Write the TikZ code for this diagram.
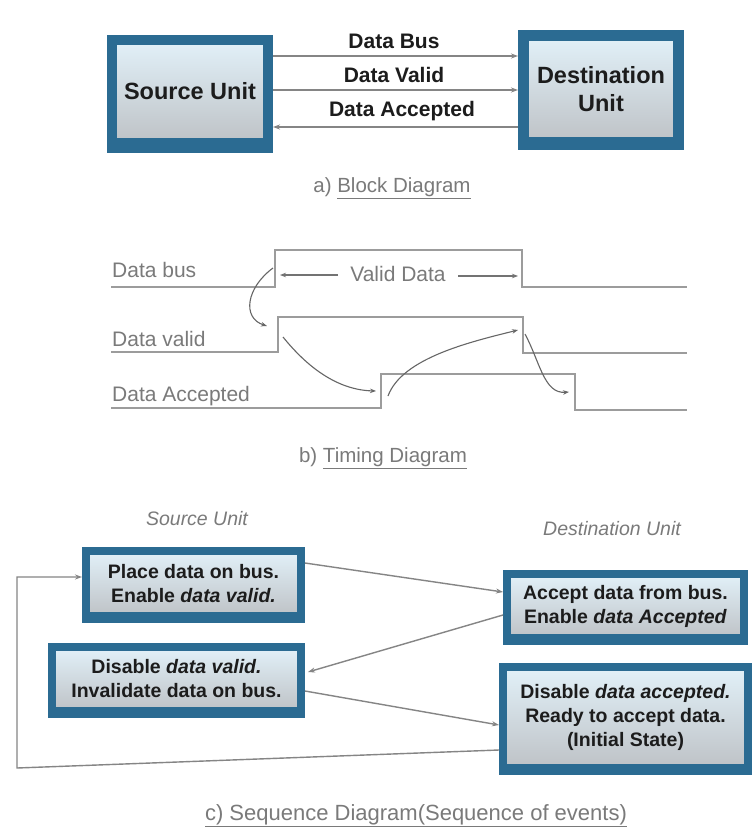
\documentclass[tikz,border=0pt]{standalone}
\usepackage{fontspec}
\setmainfont{Liberation Sans}
\usetikzlibrary{arrows.meta}
\definecolor{boxblue}{HTML}{2B6B92}
\definecolor{boxtop}{HTML}{E2F1F9}
\definecolor{boxmid}{HTML}{F1F3F4}
\definecolor{boxbot}{HTML}{BEC2C6}
\definecolor{txtdark}{HTML}{1C1C1C}
\definecolor{lightgray}{HTML}{7A7A7A}
\definecolor{wavegray}{HTML}{9C9C9C}
\definecolor{conngray}{HTML}{858585}
\tikzset{
  unitbox/.style={draw=boxblue, line width=10pt, top color=boxtop, middle color=boxmid, bottom color=boxbot,
    text=txtdark, align=center, inner sep=0pt, font=\bfseries\fontsize{23.5}{28}\selectfont},
  seqbox/.style={draw=boxblue, line width=8pt, top color=boxtop, middle color=boxmid, bottom color=boxbot,
    text=txtdark, align=center, inner sep=0pt, font=\bfseries\fontsize{19.5}{24}\selectfont},
  conn/.style={draw=conngray, line width=1.4pt, -{Stealth[length=7pt,width=5pt]}},
  buslabel/.style={text=txtdark, font=\bfseries\fontsize{21}{24}\selectfont},
  wave/.style={draw=wavegray, line width=2pt},
  wavelabel/.style={text=lightgray, anchor=west, inner sep=0pt, font=\fontsize{21}{24}\selectfont},
  curvearrow/.style={draw=black!60, line width=1.1pt, -{Stealth[length=6pt,width=4.5pt]}},
  caption/.style={text=lightgray, font=\fontsize{20.5}{24}\selectfont},
  heading/.style={text=lightgray, font=\itshape\fontsize{19.5}{22}\selectfont},
}
\begin{document}
\begin{tikzpicture}[x=1pt,y=-1pt]
\useasboundingbox[fill=white] (0,0) rectangle (754,833);

% ---------- a) Block diagram ----------
\node[unitbox, minimum width=156pt, minimum height=103pt] (src) at (190,91.5) {Source Unit};
\fill[boxblue] (src.south west) rectangle ([yshift=-5pt]src.south east);
\node[unitbox, line width=11pt, minimum width=155pt, minimum height=107pt] (dst) at (601,89) {Destination\\Unit};
\fill[boxblue] (dst.south west) rectangle ([yshift=-2pt]dst.south east);

\draw[conn] (src.east |- 0,56) -- (dst.west |- 0,56);
\draw[conn] (src.east |- 0,90) -- (dst.west |- 0,90);
\draw[conn] (dst.west |- 0,127) -- (src.east |- 0,127);
\node[buslabel] (lbus) at (394,41) {Data Bus};
\node[buslabel] (lvalid) at (394,75) {Data Valid};
\node[buslabel] (lacc) at (402,111) {Data Accepted};

\node[caption] (capa) at (392,188) {a) \underline{Block Diagram}};

% ---------- b) Timing diagram ----------
\draw[wave] (111,287) -- (275,287) -- (275,250) -- (522,250) -- (522,287) -- (687,287);
\draw[wave] (111,352) -- (278,352) -- (278,317) -- (523,317) -- (523,353) -- (687,353);
\draw[wave] (111,408) -- (381,408) -- (381,374) -- (575,374) -- (575,410) -- (687,410);

\node[wavelabel] (tbus) at (112,270) {Data bus};
\node[wavelabel] (tvalid) at (112,339) {Data valid};
\node[wavelabel] (tacc) at (112,396) {Data Accepted};

\node[text=lightgray, font=\fontsize{21}{24}\selectfont] (vd) at (398,274) {Valid Data};
\coordinate (vdl) at (280,275);
\coordinate (vdr) at (518,276);
\coordinate (vdls) at (338,275);
\coordinate (vdrs) at (458,276);
\draw[draw=black!55, line width=1.1pt, -{Stealth[length=6pt,width=4.5pt]}] (vdls) -- (vdl);
\draw[draw=black!55, line width=1.1pt, -{Stealth[length=6pt,width=4.5pt]}] (vdrs) -- (vdr);

\coordinate (c1s) at (273,268);  \coordinate (c1e) at (267,326);
\coordinate (c2s) at (283,337);  \coordinate (c2e) at (376,391);
\coordinate (c3s) at (388,396);  \coordinate (c3e) at (518,330);
\coordinate (c4s) at (525,334);  \coordinate (c4e) at (569,392);
\draw[curvearrow] (c1s) .. controls (246,288) and (242,318) .. (c1e);
\draw[curvearrow] (c2s) .. controls (308,368) and (338,390) .. (c2e);
\draw[curvearrow] (c3s) .. controls (402,358) and (470,342) .. (c3e);
\draw[curvearrow] (c4s) .. controls (540,362) and (544,394) .. (c4e);

\node[caption] (capb) at (383,458) {b) \underline{Timing Diagram}};

% ---------- c) Sequence diagram ----------
\node[heading] (hsrc) at (197,519) {Source Unit};
\node[heading] (hdst) at (612,529) {Destination Unit};

\node[seqbox, minimum width=215pt, minimum height=65pt] (b1) at (193.5,583.5)
  {Place data on bus.\\Enable \textit{data valid.}};
\fill[boxblue] (b1.south west) rectangle ([yshift=-3pt]b1.south east);

\node[seqbox, minimum width=249pt, minimum height=64pt] (b2) at (176.5,679)
  {Disable \textit{data valid.}\\Invalidate data on bus.};
\fill[boxblue] (b2.south west) rectangle ([yshift=-3pt]b2.south east);

\node[seqbox, minimum width=237pt, minimum height=64pt] (b3) at (625.5,606)
  {Accept data from bus.\\Enable \textit{data Accepted}};
\fill[boxblue] (b3.south west) rectangle ([yshift=-3pt]b3.south east);

\node[seqbox, minimum width=245pt, minimum height=101pt] (b4) at (625.5,717.5)
  {Disable \textit{data accepted.}\\Ready to accept data.\\(Initial State)};
\fill[boxblue] (b4.south west) rectangle ([yshift=-3pt]b4.south east);

\draw[conn] (b1.east |- 0,563) -- (b3.west |- 0,592);
\draw[conn] (b3.west |- 0,615) -- ([xshift=3pt]b2.east |- 0,672);
\draw[conn] (b2.east |- 0,691) -- (b4.west |- 0,725);
\coordinate (loopbl) at (17,768);
\coordinate (looptl) at (17,577);
\draw[conn] (b4.west |- 0,750) -- (loopbl) -- (looptl) -- (b1.west |- 0,577);

\node[caption, font=\fontsize{22}{26}\selectfont] (capc) at (416,816) {\underline{c) Sequence Diagram(Sequence of events)}};
\end{tikzpicture}
\end{document}
